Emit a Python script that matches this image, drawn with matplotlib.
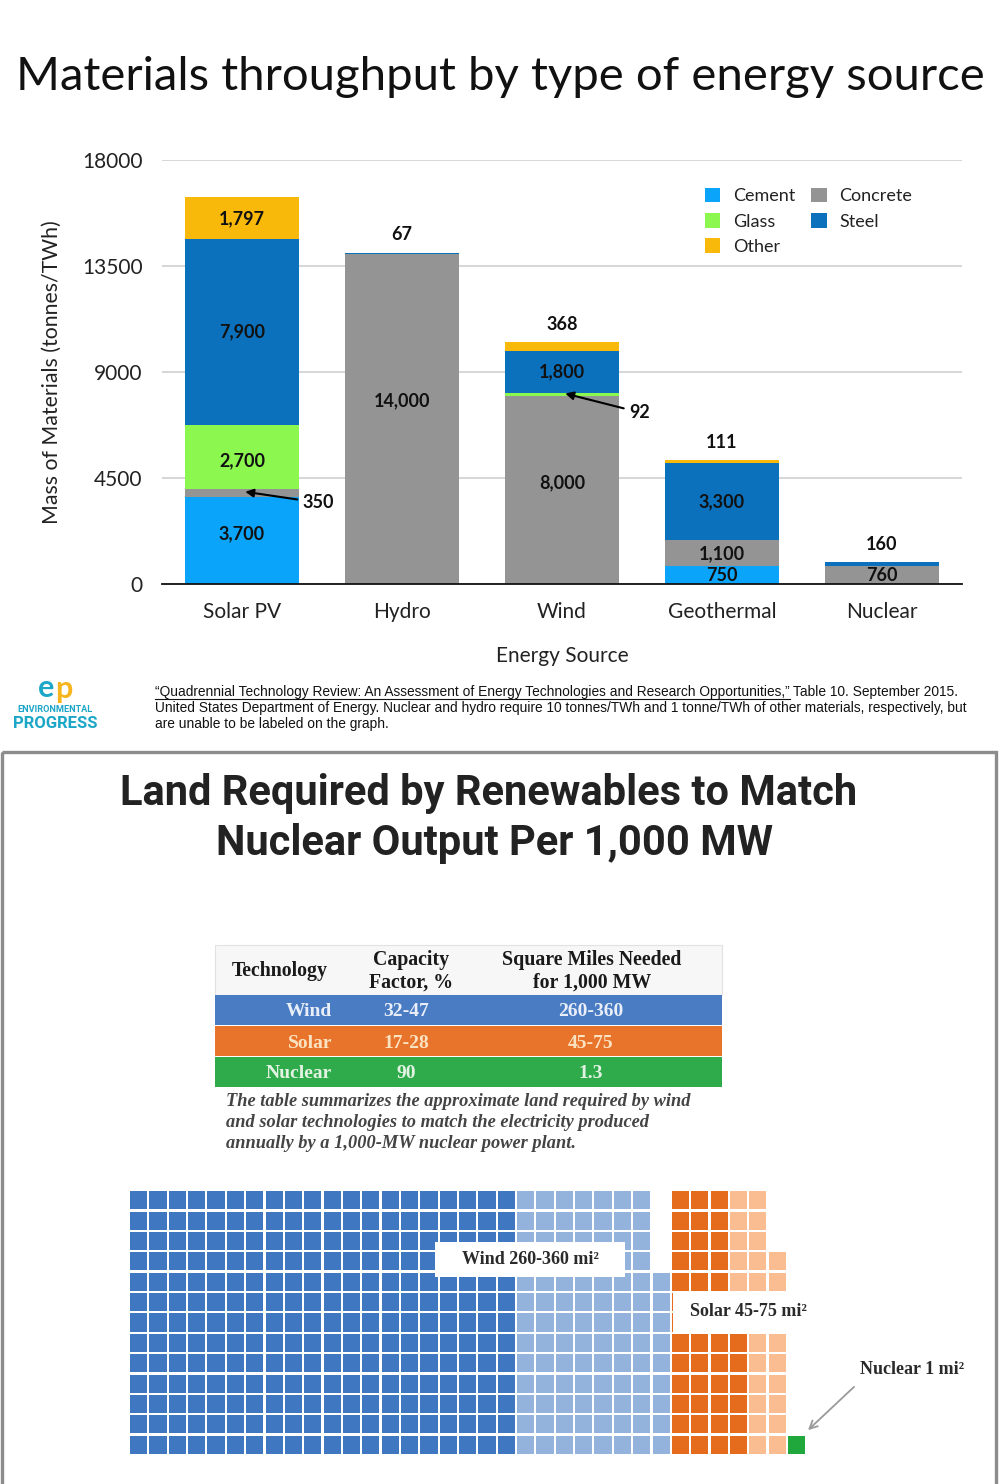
import matplotlib
matplotlib.use('Agg')
import matplotlib.pyplot as plt
from matplotlib.patches import Rectangle
import numpy as np

W, H = 1000, 1484
fig = plt.figure(figsize=(W / 100, H / 100), dpi=100)
fig.patch.set_facecolor('white')

# ---------------- data: materials chart ----------------
categories = ['Solar PV', 'Hydro', 'Wind', 'Geothermal', 'Nuclear']
materials = ['Cement', 'Concrete', 'Glass', 'Steel', 'Other']
cement = [3700, 0, 0, 750, 0]
concrete = [350, 14000, 8000, 1100, 760]
glass = [2700, 0, 92, 0, 0]
steel = [7900, 67, 1800, 3300, 160]
other = [1797, 1, 368, 111, 10]
y_ticks = [0, 4500, 9000, 13500, 18000]

# ---------------- data: land table ----------------
tech = ['Wind', 'Solar', 'Nuclear']
capacity_factor = ['32-47', '17-28', '90']
square_miles = ['260-360', '45-75', '1.3']

# ---------------- data: land waffle (cells per row, 13 rows) ----------------
wind_min_cols = 20
wind_extra_per_row = [7, 7, 7, 7, 8, 8, 8, 8, 8, 8, 8, 8, 8]
solar_min_per_row = [3, 3, 3, 3, 3, 3, 3, 4, 4, 4, 4, 4, 4]
solar_extra_per_row = [2, 2, 2, 3, 3, 3, 3, 2, 2, 2, 2, 2, 2]
nuclear_cells = 1

SANS = ['Lato', 'DejaVu Sans']
SERIF = ['Liberation Serif', 'DejaVu Serif']
COND = ['Roboto', 'DejaVu Sans']
ARIAL = ['Liberation Sans', 'DejaVu Sans']

mat_colors = {'Cement': '#0aa4fb', 'Concrete': '#949494', 'Glass': '#8cf74f',
              'Steel': '#0c71bd', 'Other': '#f9b90a'}

# ---------------- overlay axes (pixel coords) ----------------
ov = fig.add_axes([0, 0, 1, 1])
ov.set_xlim(0, W)
ov.set_ylim(H, 0)
ov.axis('off')
ov.set_zorder(5)

ov.text(500, 77, 'Materials throughput by type of energy source', ha='center', va='center',
        fontsize=34, family=SANS, color='#111111')

# ---------------- bar chart ----------------
ax = fig.add_axes([162 / W, 1 - 584 / H, 800 / W, 424 / H])
x = np.arange(len(categories))
series = [cement, concrete, glass, steel, other]
bottom = np.zeros(len(categories))
bars = {}
bottoms = {}
for name, vals in zip(materials, series):
    v = np.array(vals, dtype=float)
    bars[name] = ax.bar(x, v, 0.71, bottom=bottom, color=mat_colors[name], label=name, zorder=3)
    bottoms[name] = bottom.copy()
    bottom = bottom + v
totals = bottom

ax.set_xlim(-0.5, 4.5)
ax.set_ylim(0, 18000)
ax.set_yticks(y_ticks)
ax.set_yticklabels([str(t) for t in y_ticks])
ax.set_xticks(x)
ax.set_xticklabels(categories)
ax.yaxis.grid(True, color='#cfcfcf', lw=1.2, zorder=0)
ax.set_axisbelow(True)
for s in ['top', 'right', 'left']:
    ax.spines[s].set_visible(False)
ax.spines['bottom'].set_color('#111111')
ax.spines['bottom'].set_linewidth(1.3)
ax.spines['bottom'].set_zorder(4)
ax.tick_params(axis='y', length=0, pad=14, labelsize=15, labelcolor='#222222')
ax.tick_params(axis='x', length=0, pad=13, labelsize=15, labelcolor='#222222')
for lab in ax.get_xticklabels() + ax.get_yticklabels():
    lab.set_family(SANS)

ov.text(52, 372, 'Mass of Materials (tonnes/TWh)', rotation=90, ha='center', va='center',
        fontsize=15.3, family=SANS, color='#222222')
ov.text(562, 656, 'Energy Source', ha='center', va='center', fontsize=15, family=SANS, color='#222222')

series_map = dict(zip(materials, series))
# (bar index, material, vertical shift in pixels of label from segment centre)
inside = [(0, 'Cement', 7), (0, 'Glass', -4), (0, 'Steel', 0), (0, 'Other', -1), (1, 'Concrete', 18),
          (2, 'Concrete', 7), (2, 'Steel', 0), (3, 'Cement', 0), (3, 'Concrete', 0), (3, 'Steel', 0),
          (4, 'Concrete', 0)]
for i, m, shift in inside:
    v = series_map[m][i]
    ax.annotate(f'{v:,}', (x[i], bottoms[m][i] + v / 2), xytext=(0, shift * 0.72),
                textcoords='offset points', ha='center', va='center', fontsize=13,
                fontweight='bold', family=SANS, color='#111111', zorder=6)
above = [(1, 'Steel'), (2, 'Other'), (3, 'Other'), (4, 'Steel')]
for i, m in above:
    v = series_map[m][i]
    ax.annotate(f'{v:,}', (x[i], totals[i]), xytext=(0, 13), textcoords='offset points',
                ha='center', va='center', fontsize=13, fontweight='bold', family=SANS,
                color='#111111', zorder=6)
arrows = [(0, 'Concrete', 0.38, -420), (2, 'Glass', 0.42, -760)]
for i, m, dx, dy in arrows:
    v = series_map[m][i]
    yv = bottoms[m][i] + v / 2
    ax.annotate(f'{v:,}', xy=(x[i] + 0.02, yv + 40), xytext=(x[i] + dx, yv + dy),
                ha='left', va='center', fontsize=13, fontweight='bold', family=SANS,
                color='#111111', zorder=6,
                arrowprops=dict(arrowstyle='-|>', color='black', lw=1.5, shrinkA=2, shrinkB=0,
                                mutation_scale=12))

order = ['Cement', 'Glass', 'Other', 'Concrete', 'Steel']
leg = ax.legend([bars[n] for n in order], order, loc='upper left',
                bbox_to_anchor=(705 / W, 1 - 188 / H), bbox_transform=fig.transFigure,
                ncol=2, frameon=False, prop={'family': SANS, 'size': 13},
                handlelength=0.85, handleheight=0.85, handletextpad=0.7,
                labelspacing=0.48, columnspacing=0.9, borderaxespad=0, borderpad=0)
for t in leg.get_texts():
    t.set_color('#222222')

# ---------------- footer ----------------
ov.text(46, 688, 'e', ha='center', va='center', fontsize=22, fontweight='bold',
        family=SANS, color='#1ca6c8')
ov.text(64, 689, 'p', ha='center', va='center', fontsize=22, fontweight='bold',
        family=SANS, color='#f6b51c')
ov.text(55, 710, 'ENVIRONMENTAL', ha='center', va='center', fontsize=6.6, fontweight='bold',
        family=COND, color='#1ca6c8')
ov.text(55, 724, 'PROGRESS', ha='center', va='center', fontsize=12, fontweight='bold',
        family=COND, color='#1ca6c8')

fs_foot = 9.9
p1 = ov.text(155, 692, '“Quadrennial Technology Review: An Assessment of Energy Technologies and Research Opportunities,”',
             ha='left', va='center', fontsize=fs_foot, family=ARIAL, color='#111111')
fig.canvas.draw()
r = fig.canvas.get_renderer()
bb = p1.get_window_extent(r)
x_end = ov.transData.inverted().transform((bb.x1, bb.y0))[0]
ov.plot([155, x_end], [699, 699], color='#111111', lw=0.8)
ov.text(x_end + 3, 692, 'Table 10. September 2015.', ha='left', va='center',
        fontsize=fs_foot, family=ARIAL, color='#111111')
ov.text(155, 708, 'United States Department of Energy. Nuclear and hydro require 10 tonnes/TWh and 1 tonne/TWh of other materials, respectively, but',
        ha='left', va='center', fontsize=fs_foot, family=ARIAL, color='#111111')
ov.text(155, 724, 'are unable to be labeled on the graph.', ha='left', va='center',
        fontsize=fs_foot, family=ARIAL, color='#111111')

# ---------------- lower panel ----------------
ov.add_patch(Rectangle((2, 752), 994, 740, fill=False, edgecolor='#8c8c8c', lw=2.4))
ov.text(489, 793, 'Land Required by Renewables to Match', ha='center', va='center',
        fontsize=30, fontweight='bold', family=COND, color='#222222')
ov.text(495, 844, 'Nuclear Output Per 1,000 MW', ha='center', va='center',
        fontsize=30, fontweight='bold', family=COND, color='#222222')

# table
tx0, tx1 = 215, 722
ov.add_patch(Rectangle((tx0, 945), tx1 - tx0, 50, facecolor='#f7f7f7', edgecolor='#e2e2e2', lw=0.8))
ov.text(280, 971, 'Technology', ha='center', va='center', fontsize=14.3, fontweight='bold',
        family=SERIF, color='#1a1a1a')
ov.text(411, 971, 'Capacity\nFactor, %', ha='center', va='center', fontsize=14.3, fontweight='bold',
        family=SERIF, color='#1a1a1a', linespacing=1.2)
ov.text(592, 971, 'Square Miles Needed\nfor 1,000 MW', ha='center', va='center', fontsize=14.3,
        fontweight='bold', family=SERIF, color='#1a1a1a', linespacing=1.2)
row_colors = ['#4a7cc4', '#e8732b', '#2fab4b']
row_text_colors = ['#e9eef8', '#fbe3c2', '#e3f3e3']
row_top = 995
row_h = 31
for k, (t, cf, sm) in enumerate(zip(tech, capacity_factor, square_miles)):
    y0 = row_top + k * row_h
    ov.add_patch(Rectangle((tx0, y0), tx1 - tx0, row_h - 1, facecolor=row_colors[k], edgecolor='none'))
    yc = y0 + row_h / 2 + 1.5
    ov.text(332, yc, t, ha='right', va='center', fontsize=14, fontweight='bold', family=SERIF,
            color=row_text_colors[k])
    ov.text(406, yc, cf, ha='center', va='center', fontsize=14, fontweight='bold', family=SERIF,
            color=row_text_colors[k])
    ov.text(591, yc, sm, ha='center', va='center', fontsize=14, fontweight='bold', family=SERIF,
            color=row_text_colors[k])
cap_lines = ['The table summarizes the approximate land required by wind',
             'and solar technologies to match the electricity produced',
             'annually by a 1,000-MW nuclear power plant.']
for k, line in enumerate(cap_lines):
    ov.text(226, 1101 + k * 21.5, line, ha='left', va='center', fontsize=13.2, style='italic',
            fontweight='bold', family=SERIF, color='#444444')

# waffle
ncols = wind_min_cols + max(wind_extra_per_row) + max(np.add(solar_min_per_row, solar_extra_per_row)) + nuclear_cells
nrows = len(wind_extra_per_row)
wa = fig.add_axes([129 / W, 1 - 1455 / H, ncols * 19.35 / W, 265 / H])
wa.set_xlim(0, ncols)
wa.set_ylim(nrows, 0)
wa.axis('off')
gap = 0.11


def cell(c, rr, color):
    wa.add_patch(Rectangle((c + gap / 2, rr + gap / 2), 1 - gap, 1 - gap, facecolor=color,
                           edgecolor='none'))


solar_start = wind_min_cols + max(wind_extra_per_row)
for rr in range(nrows):
    for c in range(wind_min_cols):
        cell(c, rr, '#3f77c0')
    for c in range(wind_extra_per_row[rr]):
        cell(wind_min_cols + c, rr, '#93b2dc')
    for c in range(solar_min_per_row[rr]):
        cell(solar_start + c, rr, '#e56b1d')
    for c in range(solar_extra_per_row[rr]):
        cell(solar_start + solar_min_per_row[rr] + c, rr, '#f9bd91')
for k in range(nuclear_cells):
    cell(ncols - nuclear_cells + k, nrows - 1 - k, '#20a83c')

# waffle labels
ov.add_patch(Rectangle((435, 1242), 190, 35, facecolor='white', edgecolor='none'))
ov.text(530, 1260, 'Wind 260-360 mi²', ha='center', va='center', fontsize=13, fontweight='bold',
        family=SERIF, color='#2a2a2a')
ov.add_patch(Rectangle((673, 1291), 145, 41, facecolor='white', edgecolor='none'))
ov.text(748, 1311, 'Solar 45-75 mi²', ha='center', va='center', fontsize=13, fontweight='bold',
        family=SERIF, color='#2a2a2a')
ov.text(912, 1370, 'Nuclear 1 mi²', ha='center', va='center', fontsize=13, fontweight='bold',
        family=SERIF, color='#2a2a2a')
ov.annotate('', xy=(806, 1432), xytext=(856, 1385),
            arrowprops=dict(arrowstyle='->', color='#9a9a9a', lw=1.3, mutation_scale=14))

fig.savefig('out.png', dpi=100, facecolor='white')
